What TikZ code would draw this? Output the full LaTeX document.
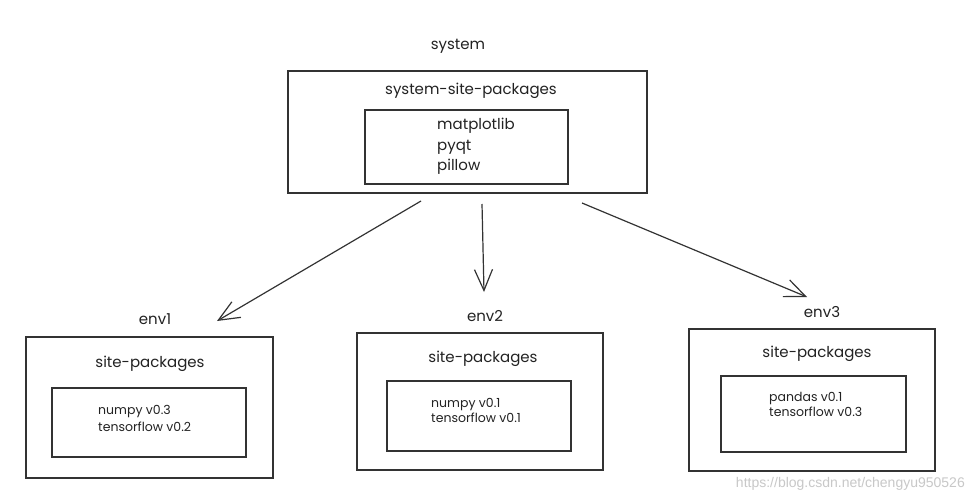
\documentclass[tikz,border=0pt]{standalone}
\usepackage{fontspec}
\setmainfont{Poppins}
\newfontfamily\urlfont{Liberation Sans}
\usetikzlibrary{arrows.meta}
\definecolor{ink}{HTML}{222222}
\definecolor{stroke}{HTML}{333333}
\definecolor{wm}{HTML}{C8C8C8}
\begin{document}
\begin{tikzpicture}[x=1pt,y=-1pt,
  outerbox/.style={draw=stroke, line width=1.4pt, inner sep=0pt},
  innerbox/.style={draw=stroke, line width=1.3pt, inner sep=0pt},
  title/.style={text=ink, anchor=base, inner sep=0pt, font=\fontsize{15}{18}\selectfont},
  item/.style={text=ink, anchor=base west, inner sep=0pt, font=\fontsize{15}{18}\selectfont},
  smallitem/.style={text=ink, anchor=base west, inner sep=0pt, align=left, font=\fontsize{12.5}{15.5}\selectfont},
  link/.style={draw=stroke, line width=1.2pt, -{Straight Barb[length=21pt,width=18pt,line width=1.2pt]}}]
\useasboundingbox[fill=white] (0,0) rectangle (968,500);

% system
\node[title] (syslabel) at (458,50) {system};
\node[outerbox, minimum width=359pt, minimum height=122pt] (sys) at (467.5,132) {};
\node[title] (systitle) at (471,95) {system-site-packages};
\node[innerbox, minimum width=203pt, minimum height=74pt] (sysin) at (466.5,147) {};
\node[item] (p1) at (437,129) {matplotlib};
\node[item] (p2) at (437,150) {pyqt};
\node[item] (p3) at (437,170) {pillow};

% env1
\node[title] (e1label) at (155,324) {env1};
\node[outerbox, minimum width=247pt, minimum height=141pt] (e1) at (149.5,407.5) {};
\node[title] (e1title) at (150,367) {site-packages};
\node[innerbox, minimum width=194pt, minimum height=69pt] (e1in) at (149,422.5) {};
\node[smallitem] (e1a) at (98,414) {numpy v0.3};
\node[smallitem] (e1b) at (98,431) {tensorflow v0.2};

% env2
\node[title] (e2label) at (485,321) {env2};
\node[outerbox, minimum width=246pt, minimum height=137pt] (e2) at (480,401.5) {};
\node[title] (e2title) at (483,362) {site-packages};
\node[innerbox, minimum width=184pt, minimum height=70pt] (e2in) at (479,416) {};
\node[smallitem] (e2a) at (431,407) {numpy v0.1};
\node[smallitem] (e2b) at (431,422) {tensorflow v0.1};

% env3
\node[title] (e3label) at (822,317) {env3};
\node[outerbox, minimum width=246pt, minimum height=142pt] (e3) at (812,400) {};
\node[title] (e3title) at (817,357) {site-packages};
\node[innerbox, minimum width=185pt, minimum height=76pt] (e3in) at (813.5,414) {};
\node[smallitem] (e3a) at (769,401) {pandas v0.1};
\node[smallitem] (e3b) at (769,416) {tensorflow v0.3};

% arrows
\coordinate (s1) at (421,201);
\coordinate (t1) at (217,321);
\coordinate (s2) at (482,204);
\coordinate (t2) at (484,292);
\coordinate (s3) at (582,203);
\coordinate (t3) at (807,297);
\draw[link] (s1) -- (t1);
\draw[link] (s2) -- (t2);
\draw[link] (s3) -- (t3);

% watermark
\node[text=wm, anchor=base east, inner sep=0pt, font=\urlfont\fontsize{14}{16}\selectfont] (url) at (965,487) {https://blog.csdn.net/chengyu950526};
\end{tikzpicture}
\end{document}
